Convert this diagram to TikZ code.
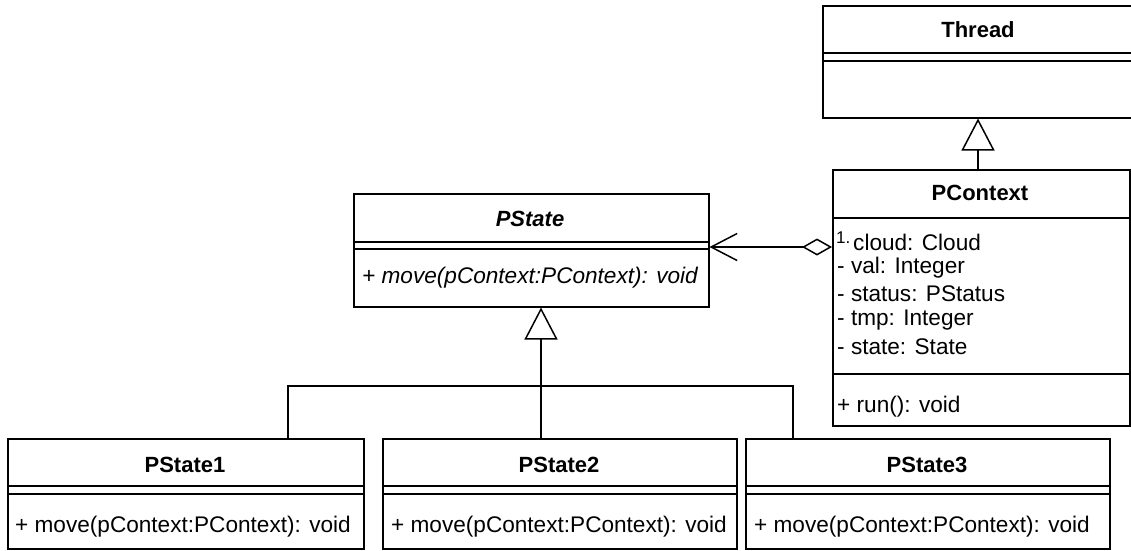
\documentclass[tikz,border=0pt]{standalone}
\usepackage{fontspec}
\setmainfont{Liberation Sans}
\usetikzlibrary{arrows.meta}
\newcommand\umlfont{\fontsize{22.6}{27}\selectfont}
\newcommand\umltitlefont{\fontsize{22}{26}\selectfont\bfseries}
\begin{document}
\begin{tikzpicture}[x=1pt,y=-1pt,
  every node/.style={inner sep=0pt, font=\umlfont},
  classbox/.style={draw, line width=1.5pt, fill=white, anchor=north west, minimum width=#1},
  sep/.style={line width=1.5pt},
  title/.style={font=\umltitlefont},
  member/.style={anchor=west},
  conn/.style={line width=1.5pt},
  gen/.style={conn, -{Triangle[open, length=32pt, width=33pt, line width=1.5pt]}},
  agg/.style={conn, {Straight Barb[length=26pt, width=27pt, line width=1.5pt]}-{Diamond[open, length=30pt, width=17pt, line width=1.5pt]}}
]
\fill[white] (0,0) rectangle (1131,550);
\useasboundingbox (0,0) rectangle (1131,550);

% Thread
\node[classbox=312pt, minimum height=112pt] (thread) at (822,5) {};
\node[title] (threadT) at (978,30) {Thread};
\draw[sep] (thread.west |- 0,53) -- (thread.east |- 0,53);
\draw[sep] (thread.west |- 0,61) -- (thread.east |- 0,61);

% PContext
\node[classbox=297pt, minimum height=256pt] (pctx) at (832,169) {};
\node[title] (pctxT) at (980,193) {PContext};
\draw[sep] (pctx.west |- 0,218) -- (pctx.east |- 0,218);
\draw[sep] (pctx.west |- 0,374) -- (pctx.east |- 0,374);
\node[member] (a1) at (853,242) {cloud: Cloud};
\node[anchor=base west, font=\fontsize{17}{19}\selectfont] (mult) at (836,243) {1.};
\node[member] (a2) at (837,268) {- val: Integer};
\node[member] (a3) at (837,294) {- status: PStatus};
\node[member] (a4) at (837,320) {- tmp: Integer};
\node[member] (a5) at (837,347) {- state: State};
\node[member] (m1) at (837,407) {+ run(): void};

% PState
\node[classbox=355pt, minimum height=113pt] (pstate) at (353,193) {};
\node[title, font=\umltitlefont\itshape] (pstateT) at (530,219) {PState};
\draw[sep] (pstate.west |- 0,242) -- (pstate.east |- 0,242);
\draw[sep] (pstate.west |- 0,249) -- (pstate.east |- 0,249);
\node[member, font=\umlfont\itshape] (pstateM) at (362,278) {+ move(pContext:PContext): void};

% Concrete states
\node[classbox=356pt, minimum height=110pt] (ps1) at (7,438) {};
\node[title] (ps1T) at (185,465) {PState1};
\draw[sep] (ps1.west |- 0,486) -- (ps1.east |- 0,486);
\draw[sep] (ps1.west |- 0,494) -- (ps1.east |- 0,494);
\node[member] (ps1M) at (15,527) {+ move(pContext:PContext): void};

\node[classbox=354pt, minimum height=110pt] (ps2) at (382,438) {};
\node[title] (ps2T) at (559,465) {PState2};
\draw[sep] (ps2.west |- 0,486) -- (ps2.east |- 0,486);
\draw[sep] (ps2.west |- 0,494) -- (ps2.east |- 0,494);
\node[member] (ps2M) at (391,527) {+ move(pContext:PContext): void};

\node[classbox=364pt, minimum height=110pt] (ps3) at (745,438) {};
\node[title] (ps3T) at (927,465) {PState3};
\draw[sep] (ps3.west |- 0,486) -- (ps3.east |- 0,486);
\draw[sep] (ps3.west |- 0,494) -- (ps3.east |- 0,494);
\node[member] (ps3M) at (754,527) {+ move(pContext:PContext): void};

% Generalisation tree
\coordinate (hub) at (541,386);
\coordinate (j1) at (288,386);
\coordinate (j3) at (793,386);
\draw[gen] (hub) -- (hub |- pstate.south);
\draw[conn] (j1 |- ps1.north) -- (j1) -- (j3) -- (j3 |- ps3.north);
\draw[conn] (hub |- ps2.north) -- (hub);

% Thread <|-- PContext
\draw[gen] (pctx.north -| threadT) -- (thread.south -| threadT);

% PContext <>--> PState
\draw[agg] (pstate.east |- 0,247) -- (pctx.west |- 0,247);
\end{tikzpicture}
\end{document}
